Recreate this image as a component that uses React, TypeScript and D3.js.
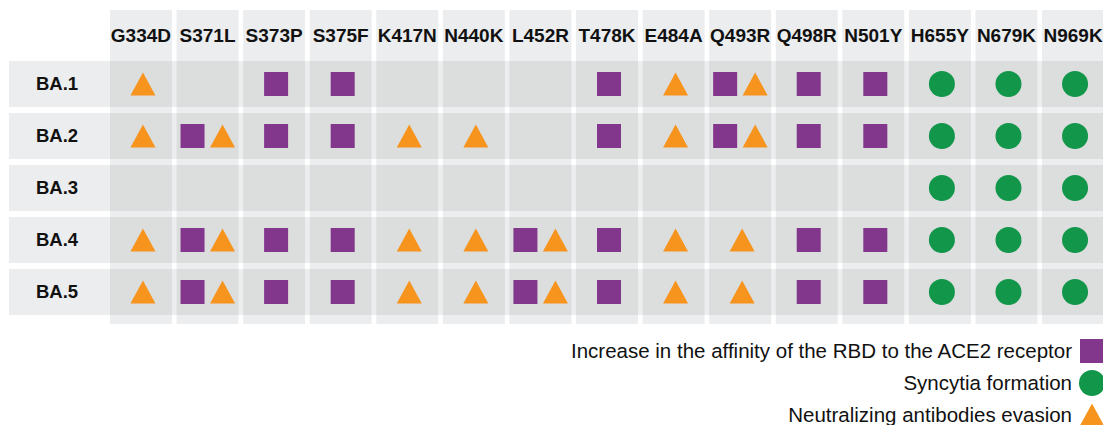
import React, { useEffect } from 'react';
import * as d3 from 'd3';

// mutations (columns) and variants (rows)
const mutations = ['G334D', 'S371L', 'S373P', 'S375F', 'K417N', 'N440K', 'L452R', 'T478K', 'E484A', 'Q493R', 'Q498R', 'N501Y', 'H655Y', 'N679K', 'N969K'];
const variants = ['BA.1', 'BA.2', 'BA.3', 'BA.4', 'BA.5'];

// S = affinity to ACE2, C = syncytia, T = antibody evasion
const ba1 = ['T', '', 'S', 'S', '', '', '', 'S', 'T', 'ST', 'S', 'S', 'C', 'C', 'C'];
const ba2 = ['T', 'ST', 'S', 'S', 'T', 'T', '', 'S', 'T', 'ST', 'S', 'S', 'C', 'C', 'C'];
const ba3 = ['', '', '', '', '', '', '', '', '', '', '', '', 'C', 'C', 'C'];
const ba4 = ['T', 'ST', 'S', 'S', 'T', 'T', 'ST', 'S', 'T', 'T', 'S', 'S', 'C', 'C', 'C'];
const ba5 = ['T', 'ST', 'S', 'S', 'T', 'T', 'ST', 'S', 'T', 'T', 'S', 'S', 'C', 'C', 'C'];
const effects = [ba1, ba2, ba3, ba4, ba5];

const legendItems = [
  { label: 'Increase in the affinity of the RBD to the ACE2 receptor', code: 'S' },
  { label: 'Syncytia formation', code: 'C' },
  { label: 'Neutralizing antibodies evasion', code: 'T' },
];

const W = 1103;
const H = 425;
const PURPLE = '#82368c';
const ORANGE = '#f7941d';
const GREEN = '#11964a';
const LIGHT = '#ebedef';
const CELL = '#dcdddd';
const FONT = 'Arial, "Liberation Sans", Helvetica, sans-serif';

const x = d3.scaleBand<string>().domain(mutations).range([110, 1104]).paddingInner(0.07);
const y = d3.scaleBand<string>().domain(variants).range([61, 315]).paddingInner(0.115);

const Marker = ({ code, cx, cy }: { code: string; cx: number; cy: number }) => {
  if (code === 'S') {
    return <rect x={cx - 12} y={cy - 12} width={24} height={24} fill={PURPLE} />;
  }
  if (code === 'C') {
    return <circle cx={cx} cy={cy} r={13} fill={GREEN} />;
  }
  const pts = [[cx, cy - 11.5], [cx + 12.5, cy + 11.5], [cx - 12.5, cy + 11.5]];
  return <polygon points={pts.map(p => p.join(',')).join(' ')} fill={ORANGE} />;
};

export default function App() {
  useEffect(() => {
    document.body.style.margin = '0';
  }, []);

  const bw = x.bandwidth();
  const bh = y.bandwidth();

  return (
    <svg width={W} height={H} style={{ display: 'block', background: '#fff' }} fontFamily={FONT}>
      {/* column backgrounds */}
      {mutations.map(m => (
        <rect key={m} x={x(m)} y={10} width={bw} height={314} fill={LIGHT} />
      ))}
      {/* row backgrounds */}
      {variants.map(v => (
        <rect key={v} x={9} y={y(v)} width={W - 9} height={bh} fill={LIGHT} />
      ))}
      {/* intersections */}
      {variants.map(v =>
        mutations.map(m => (
          <rect key={v + m} x={x(m)} y={y(v)} width={bw} height={bh} fill={CELL} />
        ))
      )}
      {/* column headers */}
      {mutations.map(m => (
        <text key={m} x={(x(m) || 0) + bw / 2} y={41.5} textAnchor="middle" fontSize={19} fontWeight="bold" fill="#111">
          {m}
        </text>
      ))}
      {/* row labels */}
      {variants.map(v => (
        <text key={v} x={36} y={(y(v) || 0) + bh / 2} dy="0.35em" fontSize={18.5} fontWeight="bold" fill="#111">
          {v}
        </text>
      ))}
      {/* markers */}
      {variants.map((v, i) =>
        mutations.map((m, j) => {
          const codes = effects[i][j].split('').filter(Boolean);
          const cx = (x(m) || 0) + bw / 2;
          const cy = (y(v) || 0) + bh / 2;
          return codes.map((c, k) => {
            const off = codes.length === 2 ? (k === 0 ? -15 : 15) : 2;
            return <Marker key={v + m + c} code={c} cx={cx + off} cy={cy} />;
          });
        })
      )}
      {/* legend */}
      {legendItems.map((d, i) => {
        const cy = 351 + i * 32;
        return (
          <g key={d.code}>
            <text x={1072} y={cy} dy="0.35em" textAnchor="end" fontSize={20.5} fill="#111">
              {d.label}
            </text>
            <Marker code={d.code} cx={1092} cy={cy} />
          </g>
        );
      })}
    </svg>
  );
}
